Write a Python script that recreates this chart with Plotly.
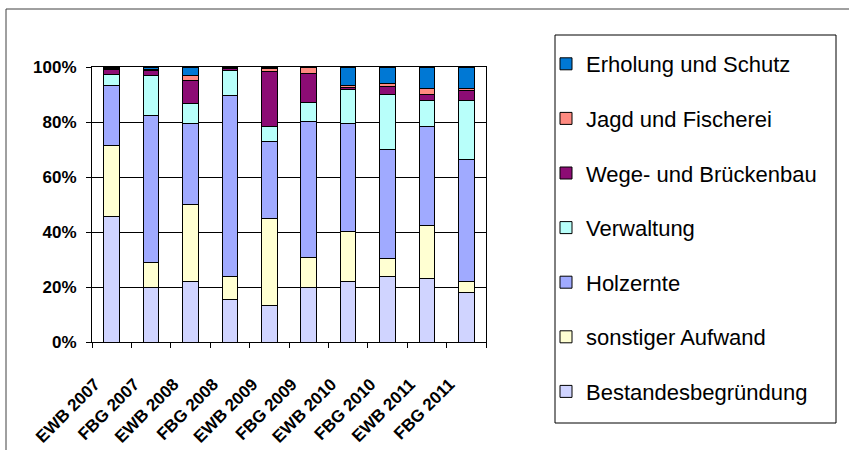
import plotly.graph_objects as go

# Cost shares per operating unit and year (percent of total expenditure)
categories = ["EWB 2007", "FBG 2007", "EWB 2008", "FBG 2008", "EWB 2009",
              "FBG 2009", "EWB 2010", "FBG 2010", "EWB 2011", "FBG 2011"]

bestandesbegruendung = [45.6, 19.8, 21.8, 15.4, 13.3, 19.8, 21.8, 23.8, 23.1, 17.9]
sonstiger_aufwand    = [26.0, 8.9, 28.0, 8.2, 31.4, 10.9, 18.0, 6.3, 19.2, 3.9]
holzernte            = [21.7, 53.2, 29.4, 65.9, 28.1, 49.1, 38.8, 39.7, 35.7, 44.1]
verwaltung           = [3.9, 14.5, 7.1, 8.9, 5.2, 7.1, 12.3, 19.7, 9.5, 21.6]
wege_bruecken        = [1.8, 1.9, 8.5, 1.0, 20.0, 10.3, 0.8, 3.2, 2.1, 3.4]
jagd_fischerei       = [0.4, 0.5, 1.6, 0.2, 1.1, 2.5, 0.6, 1.1, 2.1, 0.8]
erholung_schutz      = [0.6, 0.8, 3.2, 0.2, 0.5, 0.0, 6.8, 5.8, 7.8, 7.8]

series = [
    ("Bestandesbegründung", bestandesbegruendung, "#D0D4FF"),
    ("sonstiger Aufwand", sonstiger_aufwand, "#FFFFD2"),
    ("Holzernte", holzernte, "#A0AAFF"),
    ("Verwaltung", verwaltung, "#B8FFFA"),
    ("Wege- und Brückenbau", wege_bruecken, "#8C0C74"),
    ("Jagd und Fischerei", jagd_fischerei, "#FF8A80"),
    ("Erholung und Schutz", erholung_schutz, "#0078D4"),
]

y_ticks = [0, 20, 40, 60, 80, 100]
y_tick_labels = ["0%", "20%", "40%", "60%", "80%", "100%"]

FONT = "Liberation Sans, Arial, sans-serif"
W, H = 849, 450
L, R, T, B = 92, 363, 67, 108
PW, PH = W - L - R, H - T - B


def px_x(x):
    return (x - L) / PW


def px_y(y):
    return (H - B - y) / PH


# rotated category labels sit a little left of their ticks
x_tick_text = [c + "\u00a0" * 5 for c in categories]

fig = go.Figure()
n = len(series)
for i, (name, vals, color) in enumerate(series):
    fig.add_trace(go.Bar(
        name=name, x=categories, y=vals, legendgroup=name,
        legendrank=n - i,
        marker=dict(color=color, line=dict(color="black", width=1)),
    ))

fig.update_layout(
    width=W, height=H,
    margin=dict(l=L, r=R, t=T, b=B),
    barmode="stack", barnorm="percent", bargap=0.6,
    plot_bgcolor="white", paper_bgcolor="white",
    font=dict(family=FONT, color="black"),
    showlegend=True,
    legend=dict(
        x=px_x(546), y=px_y(43), xanchor="left", yanchor="top",
        tracegroupgap=23, maxheight=440,
        font=dict(size=22, family=FONT, color="black"),
        bgcolor="rgba(0,0,0,0)", borderwidth=0,
    ),
    xaxis=dict(
        type="category", tickangle=-45, automargin=False,
        tickvals=categories, ticktext=x_tick_text,
        tickfont=dict(size=17, family=FONT, color="black", weight="bold"),
        showline=True, linecolor="black", linewidth=1, mirror=True,
        ticks="outside", ticklen=5, tickcolor="black", tickson="boundaries",
        showgrid=False, ticklabelstandoff=8,
    ),
    yaxis=dict(
        range=[0, 100], tickvals=y_ticks, ticktext=y_tick_labels,
        automargin=False,
        tickfont=dict(size=17, family=FONT, color="black", weight="bold"),
        showline=True, linecolor="black", linewidth=1, mirror=True,
        ticks="outside", ticklen=5, tickcolor="black",
        showgrid=True, gridcolor="black", gridwidth=1,
        zeroline=False, ticklabelstandoff=6,
    ),
    shapes=[
        # outer chart frame
        dict(type="rect", xref="paper", yref="paper",
             x0=px_x(6), x1=px_x(W + 10), y0=px_y(H + 10), y1=px_y(9),
             line=dict(color="#404040", width=1), fillcolor="rgba(0,0,0,0)",
             layer="below"),
        # legend frame
        dict(type="rect", xref="paper", yref="paper",
             x0=px_x(555), x1=px_x(836), y0=px_y(423), y1=px_y(35),
             line=dict(color="black", width=1), fillcolor="rgba(0,0,0,0)"),
    ],
)

fig.write_html("out.html")
